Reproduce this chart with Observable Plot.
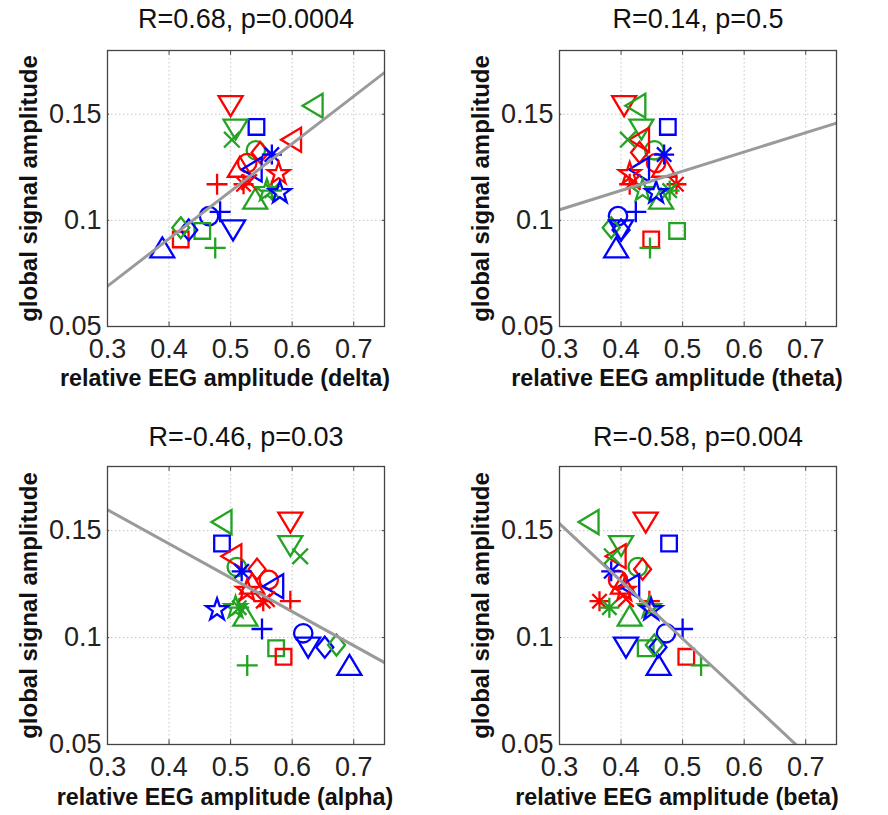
<!DOCTYPE html>
<html>
<head>
<meta charset="utf-8">
<script src="https://cdn.jsdelivr.net/npm/d3@7"></script>
<script src="https://cdn.jsdelivr.net/npm/@observablehq/plot@0.6"></script>
<style>
  html, body { margin: 0; padding: 0; background: #fff; }
  #wrap { position: relative; width: 888px; height: 815px; background: #fff; overflow: hidden; }
  #wrap > div { position: absolute; }
</style>
</head>
<body>
<div id="wrap"></div>
<script>
// ---- data ----
const markers = ["v","<","s","v","x","<","o","d","*","o","^","<","p","+","*","x","*","p","p","^","+","o","v","d","d","s","s","^","+"];
const colors  = ["r","g","b","g","g","r","g","r","b","r","r","b","r","r","r","r","g","g","b","g","b","b","b","b","g","g","r","b","g"];
const amplitude = [0.154,0.154,0.144,0.143,0.138,0.138,0.133,0.132,0.131,0.127,0.125,0.124,0.122,0.117,0.117,0.118,0.114,0.114,0.113,0.110,0.104,0.102,0.0955,0.0955,0.0965,0.095,0.091,0.087,0.087];
const xDelta = [0.500,0.634,0.542,0.508,0.502,0.599,0.541,0.548,0.567,0.527,0.515,0.535,0.578,0.478,0.521,0.530,0.567,0.559,0.580,0.540,0.483,0.465,0.504,0.432,0.419,0.454,0.419,0.389,0.475];
const xTheta = [0.405,0.424,0.476,0.433,0.411,0.430,0.454,0.430,0.470,0.457,0.470,0.430,0.414,0.414,0.490,0.419,0.479,0.435,0.457,0.465,0.424,0.395,0.400,0.400,0.384,0.491,0.449,0.392,0.447];
const xAlpha = [0.597,0.486,0.486,0.597,0.613,0.502,0.510,0.543,0.518,0.562,0.535,0.570,0.527,0.597,0.553,0.559,0.514,0.508,0.478,0.524,0.551,0.618,0.626,0.653,0.672,0.574,0.586,0.693,0.527];
const xBeta  = [0.440,0.348,0.478,0.400,0.385,0.392,0.427,0.435,0.384,0.395,0.403,0.414,0.405,0.446,0.365,0.408,0.381,0.446,0.449,0.414,0.500,0.473,0.408,0.460,0.454,0.440,0.506,0.461,0.530];

const bands  = ["delta","theta","alpha","beta"];
const titles = ["R=0.68, p=0.0004","R=0.14, p=0.5","R=-0.46, p=0.03","R=-0.58, p=0.004"];
const fitX = [0.3, 0.75];
const fitDelta = [0.069, 0.1696];
const fitTheta = [0.105, 0.1458];
const fitAlpha = [0.1598, 0.0883];
const fitBeta  = [0.1533, 0.0322];

const xTicks = [0.3,0.4,0.5,0.6,0.7];
const xTickLabels = ["0.3","0.4","0.5","0.6","0.7"];
const yTicks = [0.05,0.1,0.15];
const yTickLabels = ["0.05","0.1","0.15"];
const yLabel = "global signal amplitude";
const xLabelPrefix = "relative EEG amplitude";

// ---- styling ----
const colorMap = {b: "#0000ff", r: "#ff0000", g: "#22a322"};
function sym(fn) { return {draw(ctx, size) { const s = Math.sqrt(size / Math.PI); fn(ctx, s); }}; }
function star(c, s) {
  const R = 1.15 * s, r = 0.45 * s;
  for (let i = 0; i < 10; i++) {
    const a = -Math.PI / 2 + i * Math.PI / 5;
    const rr = i % 2 ? r : R;
    const px = rr * Math.cos(a), py = rr * Math.sin(a);
    if (i === 0) c.moveTo(px, py); else c.lineTo(px, py);
  }
  c.closePath();
}
const SYM = {
  "o": sym((c, s) => { const r = 0.92 * s; c.moveTo(r, 0); c.arc(0, 0, r, 0, 2 * Math.PI); }),
  "s": sym((c, s) => { const h = 0.78 * s; c.moveTo(-h, -h); c.lineTo(h, -h); c.lineTo(h, h); c.lineTo(-h, h); c.closePath(); }),
  "d": sym((c, s) => { const h = 1.05 * s, w = 0.85 * s; c.moveTo(0, -h); c.lineTo(w, 0); c.lineTo(0, h); c.lineTo(-w, 0); c.closePath(); }),
  "^": sym((c, s) => { c.moveTo(0, -1.05 * s); c.lineTo(1.2 * s, 0.95 * s); c.lineTo(-1.2 * s, 0.95 * s); c.closePath(); }),
  "v": sym((c, s) => { c.moveTo(0, 1.05 * s); c.lineTo(1.2 * s, -0.95 * s); c.lineTo(-1.2 * s, -0.95 * s); c.closePath(); }),
  "<": sym((c, s) => { c.moveTo(-1.05 * s, 0); c.lineTo(0.95 * s, -1.2 * s); c.lineTo(0.95 * s, 1.2 * s); c.closePath(); }),
  "+": sym((c, s) => { const h = 1.05 * s; c.moveTo(-h, 0); c.lineTo(h, 0); c.moveTo(0, -h); c.lineTo(0, h); }),
  "x": sym((c, s) => { const h = 0.78 * s; c.moveTo(-h, -h); c.lineTo(h, h); c.moveTo(-h, h); c.lineTo(h, -h); }),
  "*": sym((c, s) => { const h = 1.0 * s, d = 0.72 * s; c.moveTo(-h, 0); c.lineTo(h, 0); c.moveTo(0, -h); c.lineTo(0, h); c.moveTo(-d, -d); c.lineTo(d, d); c.moveTo(-d, d); c.lineTo(d, -d); }),
  "p": sym(star)
};

const xs = [xDelta, xTheta, xAlpha, xBeta];
const fits = [fitDelta, fitTheta, fitAlpha, fitBeta];
const positions = [
  {left: 0,   top: 0,   mt: 50, mb: 74, ml: 107, mr: 60, tdy: -31, xdy: 52},
  {left: 444, top: 0,   mt: 50, mb: 74, ml: 115, mr: 52, tdy: -31, xdy: 52},
  {left: 0,   top: 415, mt: 51, mb: 71, ml: 107, mr: 60, tdy: -29, xdy: 53},
  {left: 444, top: 415, mt: 51, mb: 71, ml: 115, mr: 52, tdy: -29, xdy: 53}
];

const wrap = document.getElementById("wrap");
const markerTypes = Object.keys(SYM);
const FONT = "'Liberation Sans', Arial, Helvetica, sans-serif";

bands.forEach((band, k) => {
  const pos = positions[k];
  const data = amplitude.map((y, i) => ({x: xs[k][i], y, m: markers[i], c: colorMap[colors[i]]}));
  const fitData = fitX.map((x, i) => ({x, y: fits[k][i]}));
  const dotMarks = markerTypes.map(m => Plot.dot(data.filter(d => d.m === m), {
    x: "x", y: "y", r: 10, symbol: SYM[m], stroke: "c", fill: "none", strokeWidth: 2.3
  }));
  const plot = Plot.plot({
    width: 444, height: 400,
    marginLeft: pos.ml, marginRight: pos.mr, marginTop: pos.mt, marginBottom: pos.mb,
    x: {domain: [0.3, 0.75], label: null},
    y: {domain: [0.05, 0.18], label: null},
    color: {type: "identity"},
    style: {fontFamily: FONT, fontSize: "24px", background: "#fff", color: "#222", overflow: "visible"},
    marks: [
      Plot.ruleX(xTicks.slice(1), {stroke: "#c4c4c4", strokeDasharray: "1.5,2.5", strokeWidth: 1}),
      Plot.ruleY(yTicks.slice(1), {stroke: "#c4c4c4", strokeDasharray: "1.5,2.5", strokeWidth: 1}),
      Plot.ruleX(xTicks.slice(1), {y1: 0.05, y2: 0.0522, stroke: "#444", strokeWidth: 1}),
      Plot.ruleX(xTicks.slice(1), {y1: 0.18, y2: 0.1778, stroke: "#444", strokeWidth: 1}),
      Plot.ruleY(yTicks.slice(1), {x1: 0.3, x2: 0.3036, stroke: "#444", strokeWidth: 1}),
      Plot.ruleY(yTicks.slice(1), {x1: 0.75, x2: 0.7464, stroke: "#444", strokeWidth: 1}),
      Plot.axisX({ticks: xTicks, tickFormat: (d, i) => xTickLabels[i], tickSize: 0, tickPadding: 12, fontSize: 27, label: null}),
      Plot.axisY({ticks: yTicks, tickFormat: (d, i) => yTickLabels[i], tickSize: 0, tickPadding: 6, fontSize: 27, label: null}),
      ...dotMarks,
      Plot.line(fitData, {x: "x", y: "y", stroke: "#9a9a9a", strokeWidth: 3, clip: true}),
      Plot.frame({stroke: "#444", strokeWidth: 1.3}),
      Plot.text([titles[k]], {text: d => d, frameAnchor: "top", lineAnchor: "middle", textAnchor: "middle", dy: pos.tdy, fontSize: 27, fill: "#111"}),
      Plot.text([`${xLabelPrefix} (${band})`], {text: d => d, frameAnchor: "bottom", lineAnchor: "middle", textAnchor: "middle", dx: -21, dy: pos.xdy, fontSize: 23.3, fontWeight: "bold", fill: "#111"}),
      Plot.text([yLabel], {text: d => d, frameAnchor: "left", lineAnchor: "middle", textAnchor: "middle", dx: -78, rotate: -90, fontSize: 24, fontWeight: "bold", fill: "#111"})
    ]
  });
  const holder = document.createElement("div");
  holder.style.left = pos.left + "px";
  holder.style.top = pos.top + "px";
  holder.appendChild(plot);
  wrap.appendChild(holder);
});
</script>
</body>
</html>
